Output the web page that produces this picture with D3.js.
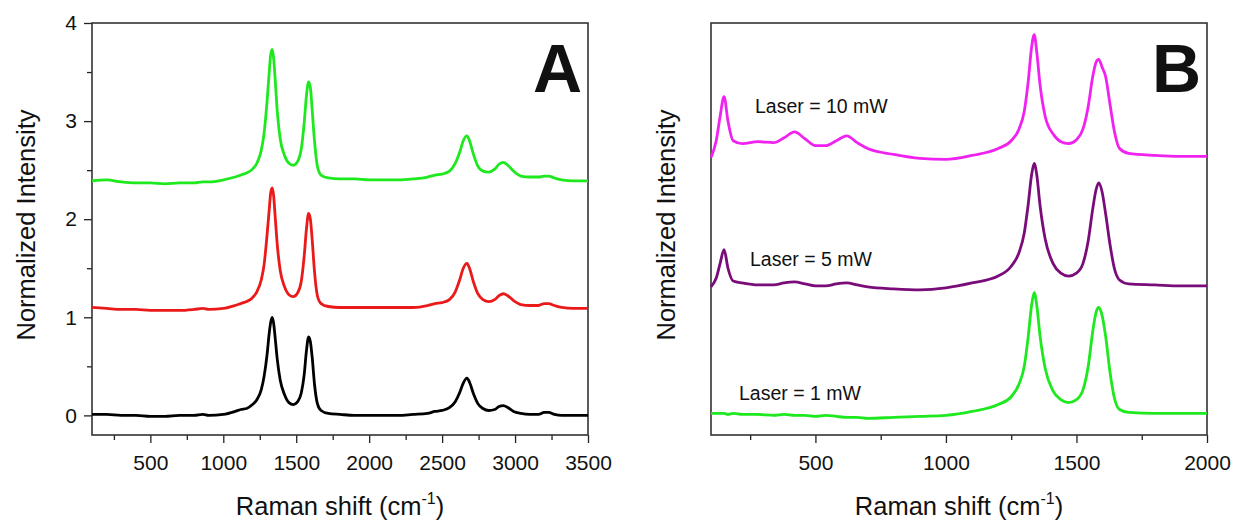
<!DOCTYPE html>
<html>
<head>
<meta charset="utf-8">
<script src="https://cdn.jsdelivr.net/npm/d3@7"></script>
<style>
  body { margin: 0; background: #fff; }
  svg text { font-family: "Liberation Sans", Arial, sans-serif; fill: #111; }
</style>
</head>
<body>
<div class="canvas"></div>
<script>
// ---- data ----
// panel A: Raman shift grid (cm-1)
const shiftA = [100, 200, 300, 400, 500, 600, 700, 800, 860, 900, 1000, 1080, 1120, 1160, 1200, 1230, 1260, 1280, 1300, 1315, 1325, 1335, 1345, 1355, 1370, 1390, 1420, 1450, 1480, 1510, 1535, 1555, 1570, 1585, 1597, 1610, 1625, 1645, 1670, 1720, 1800, 1900, 2000, 2100, 2200, 2300, 2400, 2450, 2500, 2550, 2590, 2620, 2645, 2670, 2690, 2715, 2745, 2780, 2820, 2860, 2890, 2920, 2950, 2990, 3040, 3100, 3160, 3200, 3230, 3270, 3320, 3400, 3500];

const blackA = [0.01, 0.01, 0.00, 0.00, -0.01, -0.01, 0.00, 0.00, 0.01, 0.00, 0.01, 0.04, 0.06, 0.07, 0.11, 0.16, 0.26, 0.40, 0.62, 0.84, 0.95, 1.00, 0.94, 0.80, 0.57, 0.36, 0.21, 0.13, 0.11, 0.14, 0.23, 0.42, 0.66, 0.80, 0.75, 0.58, 0.32, 0.12, 0.05, 0.02, 0.01, 0.00, 0.00, 0.00, 0.00, 0.01, 0.02, 0.04, 0.05, 0.08, 0.14, 0.23, 0.33, 0.38, 0.33, 0.22, 0.12, 0.07, 0.05, 0.06, 0.09, 0.10, 0.08, 0.04, 0.02, 0.01, 0.01, 0.03, 0.03, 0.01, 0.00, 0.00, 0.00];

const redA = [1.10, 1.09, 1.08, 1.08, 1.07, 1.07, 1.07, 1.08, 1.09, 1.08, 1.09, 1.12, 1.14, 1.16, 1.20, 1.26, 1.38, 1.54, 1.84, 2.10, 2.27, 2.32, 2.24, 2.04, 1.74, 1.48, 1.31, 1.23, 1.21, 1.25, 1.37, 1.63, 1.90, 2.06, 2.00, 1.78, 1.47, 1.22, 1.14, 1.11, 1.10, 1.10, 1.10, 1.10, 1.10, 1.10, 1.12, 1.14, 1.15, 1.18, 1.26, 1.38, 1.50, 1.55, 1.49, 1.36, 1.24, 1.18, 1.16, 1.18, 1.22, 1.24, 1.22, 1.17, 1.13, 1.12, 1.12, 1.14, 1.14, 1.12, 1.10, 1.09, 1.09];

const greenA = [2.39, 2.40, 2.38, 2.37, 2.37, 2.36, 2.37, 2.37, 2.38, 2.38, 2.40, 2.43, 2.45, 2.47, 2.51, 2.57, 2.70, 2.88, 3.20, 3.50, 3.68, 3.73, 3.64, 3.44, 3.10, 2.82, 2.65, 2.57, 2.55, 2.59, 2.72, 2.99, 3.26, 3.40, 3.34, 3.10, 2.80, 2.54, 2.45, 2.42, 2.41, 2.41, 2.40, 2.40, 2.40, 2.41, 2.43, 2.45, 2.46, 2.49, 2.57, 2.68, 2.80, 2.85, 2.79, 2.66, 2.54, 2.49, 2.48, 2.51, 2.56, 2.58, 2.55, 2.49, 2.44, 2.43, 2.43, 2.44, 2.44, 2.42, 2.40, 2.39, 2.39];

// panel B: Raman shift grid (cm-1), intensities in arbitrary stacked units
const shiftB = [100, 120, 135, 150, 165, 185, 220, 280, 340, 380, 420, 460, 500, 540, 580, 620, 660, 700, 800, 900, 1000, 1100, 1200, 1250, 1280, 1300, 1315, 1328, 1338, 1348, 1360, 1380, 1410, 1440, 1470, 1500, 1525, 1545, 1562, 1575, 1585, 1598, 1612, 1628, 1645, 1665, 1700, 1800, 1900, 2000];

const laser10 = [2.63, 2.80, 3.05, 3.25, 3.00, 2.80, 2.77, 2.79, 2.78, 2.83, 2.89, 2.82, 2.75, 2.75, 2.80, 2.85, 2.78, 2.72, 2.66, 2.62, 2.61, 2.65, 2.72, 2.80, 2.92, 3.10, 3.40, 3.75, 3.88, 3.70, 3.38, 3.05, 2.87, 2.79, 2.77, 2.81, 2.92, 3.15, 3.45, 3.60, 3.63, 3.55, 3.45, 3.18, 2.90, 2.72, 2.67, 2.65, 2.64, 2.64];

const laser5 = [1.31, 1.40, 1.55, 1.69, 1.50, 1.37, 1.35, 1.33, 1.33, 1.35, 1.36, 1.34, 1.32, 1.32, 1.34, 1.35, 1.33, 1.31, 1.29, 1.28, 1.30, 1.35, 1.42, 1.52, 1.66, 1.86, 2.15, 2.45, 2.57, 2.45, 2.15, 1.80, 1.55, 1.45, 1.42, 1.45, 1.55, 1.78, 2.10, 2.30, 2.37, 2.28, 2.05, 1.75, 1.50, 1.38, 1.34, 1.33, 1.32, 1.32];

const laser1 = [0.02, 0.02, 0.02, 0.02, 0.01, 0.02, 0.01, 0.01, 0.00, 0.01, 0.00, 0.00, -0.01, 0.00, -0.01, -0.02, -0.02, -0.03, -0.02, -0.01, 0.00, 0.04, 0.11, 0.19, 0.32, 0.50, 0.80, 1.12, 1.25, 1.12, 0.82, 0.48, 0.25, 0.16, 0.13, 0.16, 0.26, 0.50, 0.85, 1.05, 1.10, 1.02, 0.80, 0.45, 0.18, 0.06, 0.03, 0.02, 0.02, 0.02];

const ticksA = [500, 1000, 1500, 2000, 2500, 3000, 3500];
const minorA = [250, 750, 1250, 1750, 2250, 2750, 3250];
const ticksB = [500, 1000, 1500, 2000];
const minorB = [250, 750, 1250, 1750];
const yTicks = [0, 1, 2, 3, 4];
const yMinor = [0.5, 1.5, 2.5, 3.5];

const labelsB = ['Laser = 10 mW', 'Laser = 5 mW', 'Laser = 1 mW'];

// ---- layout ----
const width = 1238, height = 522;
const plotW = 496, plotH = 412, marginTop = 23;

const svg = d3.select('.canvas')
  .append('svg')
  .attr('width', width)
  .attr('height', height);

svg.append('rect').attr('width', width).attr('height', height).attr('fill', '#fff');

// draws one framed panel and returns its scales
function panel(left, xMax, ticks, minor, letter, showY) {
  const g = svg.append('g').attr('transform', `translate(${left},${marginTop})`);

  const x = d3.scaleLinear().domain([100, xMax]).range([0, plotW]);
  const y = d3.scaleLinear().domain([-0.2, 4]).range([plotH, 0]);

  // x axis major + minor
  g.append('g')
    .attr('transform', `translate(0,${plotH})`)
    .call(d3.axisBottom(x).tickValues(ticks).tickSize(8).tickPadding(12).tickFormat(d3.format('d')))
    .call(a => a.select('.domain').remove())
    .call(a => a.selectAll('line').attr('stroke', '#222').attr('stroke-width', 1.3))
    .call(a => a.selectAll('text').attr('font-size', 21).attr('fill', '#111'));

  g.append('g')
    .attr('transform', `translate(0,${plotH})`)
    .call(d3.axisBottom(x).tickValues(minor).tickSize(5).tickFormat(''))
    .call(a => a.select('.domain').remove())
    .call(a => a.selectAll('line').attr('stroke', '#222').attr('stroke-width', 1.3));

  if (showY) {
    g.append('g')
      .call(d3.axisLeft(y).tickValues(yTicks).tickSize(8).tickPadding(7).tickFormat(d3.format('d')))
      .call(a => a.select('.domain').remove())
      .call(a => a.selectAll('line').attr('stroke', '#222').attr('stroke-width', 1.3))
      .call(a => a.selectAll('text').attr('font-size', 21).attr('fill', '#111'));

    g.append('g')
      .call(d3.axisLeft(y).tickValues(yMinor).tickSize(5).tickFormat(''))
      .call(a => a.select('.domain').remove())
      .call(a => a.selectAll('line').attr('stroke', '#222').attr('stroke-width', 1.3));
  }

  // frame
  g.append('rect')
    .attr('width', plotW)
    .attr('height', plotH)
    .attr('fill', 'none')
    .attr('stroke', '#333')
    .attr('stroke-width', 1.6);

  // panel letter
  g.append('text')
    .attr('x', plotW - 6)
    .attr('y', 69)
    .attr('text-anchor', 'end')
    .attr('font-size', 68)
    .attr('font-weight', 'bold')
    .attr('fill', '#000')
    .text(letter);

  // axis titles
  const xt = g.append('text')
    .attr('x', plotW / 2)
    .attr('y', 492)
    .attr('text-anchor', 'middle')
    .attr('font-size', 25.5);
  xt.append('tspan').text('Raman shift (cm');
  xt.append('tspan').attr('font-size', 16).attr('dy', -11).text('-1');
  xt.append('tspan').attr('dy', 11).text(')');

  g.append('text')
    .attr('transform', `translate(${showY ? -57 : -36},${plotH / 2 - 4}) rotate(-90)`)
    .attr('text-anchor', 'middle')
    .attr('font-size', 25.5)
    .text('Normalized Intensity');

  return { g, x, y };
}

function drawLine(p, xs, ys, color) {
  const line = d3.line()
    .x((d, i) => p.x(xs[i]))
    .y(d => p.y(d))
    .curve(d3.curveMonotoneX);
  p.g.append('path')
    .datum(ys)
    .attr('fill', 'none')
    .attr('stroke', color)
    .attr('stroke-width', 2.8)
    .attr('stroke-linejoin', 'round')
    .attr('d', line);
}

const pA = panel(92, 3500, ticksA, minorA, 'A', true);
drawLine(pA, shiftA, blackA, '#000000');
drawLine(pA, shiftA, redA, '#ea1a1a');
drawLine(pA, shiftA, greenA, '#1ee81e');

const pB = panel(711, 2000, ticksB, minorB, 'B', false);
drawLine(pB, shiftB, laser10, '#f022f0');
drawLine(pB, shiftB, laser5, '#7a0c7a');
drawLine(pB, shiftB, laser1, '#1ee81e');

// labels next to the spectra in B
const labelPos = [[44, 90], [39, 243], [28, 377]];
pB.g.selectAll('.lab')
  .data(labelsB)
  .enter()
  .append('text')
  .attr('class', 'lab')
  .attr('x', (d, i) => labelPos[i][0])
  .attr('y', (d, i) => labelPos[i][1])
  .attr('font-size', 19.5)
  .text(d => d);
</script>
</body>
</html>
